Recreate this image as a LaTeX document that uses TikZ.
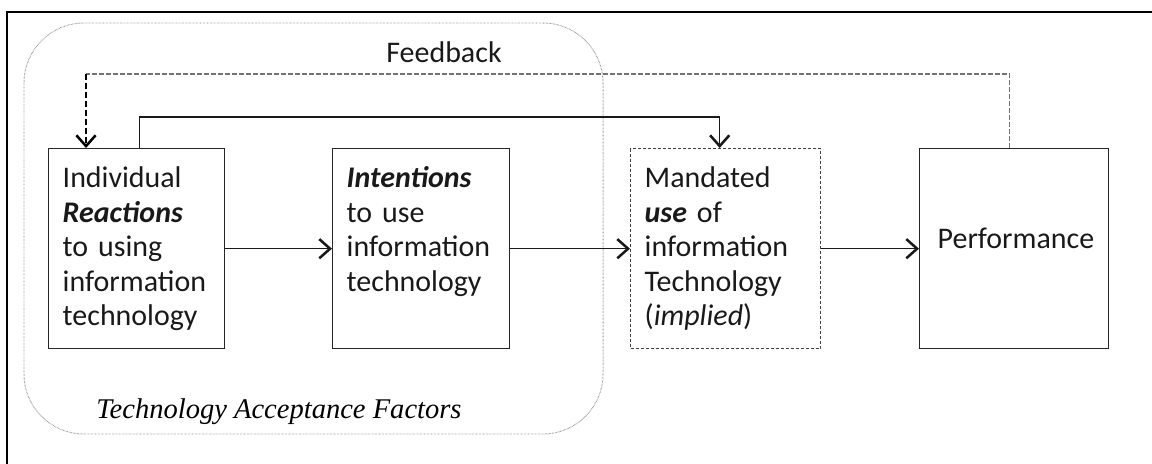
\documentclass[tikz,border=0pt]{standalone}
\usepackage{fontspec}
\newfontfamily\calibri{Carlito}
\newfontfamily\garamond{Liberation Serif}
\usetikzlibrary{arrows.meta}

\tikzset{
  frame/.style={line width=1pt, black},
  tamzone/.style={line width=0.7pt, black!45, dash pattern=on 0.4pt off 0.6pt, rounded corners=15mm},
  factor/.style={draw=black!85, line width=1pt, anchor=north west, inner xsep=3.5mm, inner ysep=0pt,
    align=left, text=black!90, font=\calibri\fontsize{21.3}{24.5}\selectfont,
    text height=9.75mm, text depth=40.25mm},
  implied/.style={factor, draw=black!75, dash pattern=on 0.8mm off 0.45mm},
  flow/.style={-{Straight Barb[length=2.7mm,width=4.8mm,line width=1.8pt]}, line width=1pt, black!90},
  fbline/.style={line width=0.9pt, black!55, dash pattern=on 1.25mm off 0.5mm},
  fbdrop/.style={-{Straight Barb[length=2.7mm,width=4.8mm,line width=1.8pt]}, line width=1.5pt, black, dash pattern=on 1.5mm off 0.75mm}
}

\begin{document}
\begin{tikzpicture}[x=0.25mm,y=-0.25mm]
\useasboundingbox (0,0) rectangle (1152,464);
\draw[frame] (7,464) -- (7,12) -- (1152,12);
\draw[tamzone] (24,23) rectangle (603,434);

\node[factor, text width=37mm] (react) at (48,148) {Individual\\\textbf{\textit{Reactions}}\\to using\\information\\technology};
\node[factor, text width=37.25mm] (intent) at (332,148) {\textbf{\textit{Intentions}}\\to use\\information\\technology};
\node[implied, text width=40.5mm] (mand) at (630,148) {Mandated\\\textbf{\textit{use}} of\\information\\Technology\\(\textit{implied})};
\node[factor, text width=38.25mm, inner xsep=4.5mm, text height=25mm, text depth=25mm] (perf) at (919,148) {Performance};

\node[anchor=base, text=black!90, font=\calibri\fontsize{21.3}{24.5}\selectfont] (fb) at (444,63) {Feedback};
\node[anchor=base, font=\garamond\fontsize{20.3}{24}\selectfont\itshape] (taf) at (279,418) {Technology Acceptance Factors};

\draw[flow] (react.east) -- (intent.west);
\draw[flow] (intent.east) -- (mand.west);
\draw[flow] (mand.east) -- (perf.west);
\draw[flow] ([xshift=0.75mm]react.north) -- ++(0,-31) -| ([xshift=-1.5mm]mand.north);

% feedback loop
\coordinate (fbturn) at (86,74);
\draw[fbline] ([xshift=-1.1mm]perf.north) |- (fbturn);
\draw[fbdrop] (fbturn) -- (fbturn |- react.north);
\end{tikzpicture}
\end{document}
